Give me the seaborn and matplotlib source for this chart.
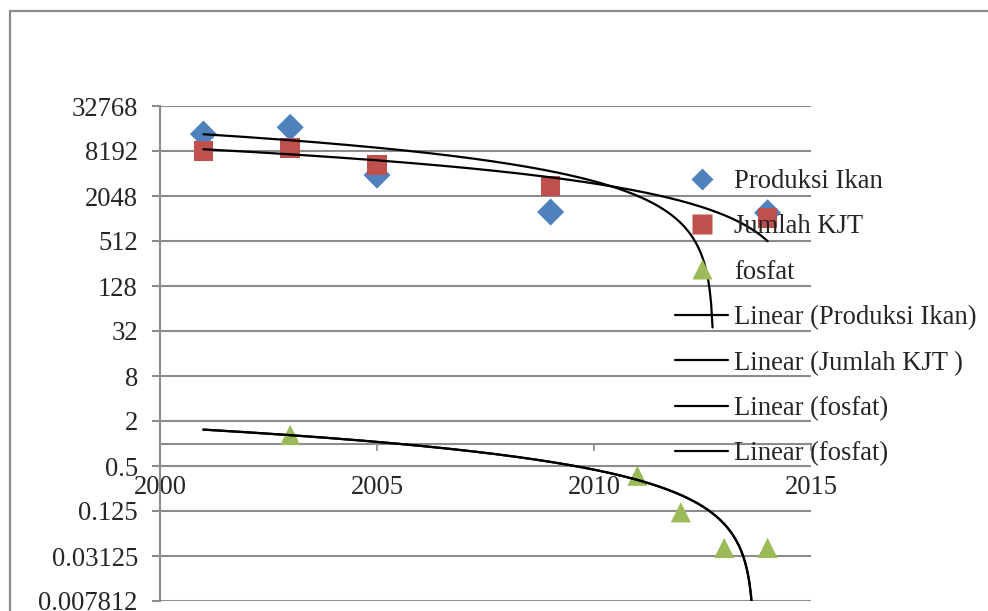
import numpy as np
import pandas as pd
import matplotlib
matplotlib.use("Agg")
import matplotlib.pyplot as plt
import matplotlib.patches as patches
from matplotlib.lines import Line2D
import seaborn as sns

# --- data -------------------------------------------------------------
years_ikan = [2001, 2003, 2005, 2009, 2014]
produksi_ikan = [13800, 17000, 3900, 1250, 1220]
jumlah_kjt = [8200, 9000, 5300, 2800, 1040]

years_fosfat = [2003, 2011, 2012, 2013, 2014]
fosfat = [1.3, 0.37, 0.12, 0.04, 0.04]

y_tick_values = [2.0 ** e for e in range(-7, 16, 2)]
y_tick_labels = ["0.007812", "0.03125", "0.125", "0.5", "2", "8", "32",
                 "128", "512", "2048", "8192", "32768"]
x_ticks = [2000, 2005, 2010, 2015]

# --- style ------------------------------------------------------------
sns.set_style("white")
plt.rcParams["font.family"] = ["Liberation Serif", "DejaVu Serif"]
FS = 19.2
plt.rcParams["font.size"] = FS

GRID = "#8c8c8c"
BLUE = "#4F81BD"
RED = "#C0504D"
GREEN = "#9BBB59"

fig = plt.figure(figsize=(9.88, 6.11), dpi=100)
ax = fig.add_axes([160 / 988, 1 - 601 / 611, (811 - 160) / 988, (601 - 106) / 611])

# outer chart frame
fig.patches.append(patches.Rectangle((10 / 988, -0.05), 1.2, (611 - 11.5) / 611 + 0.05,
                                     transform=fig.transFigure, fill=False,
                                     edgecolor=GRID, lw=1.6, zorder=0))

df_ikan = pd.DataFrame({"tahun": years_ikan, "produksi": produksi_ikan, "kjt": jumlah_kjt})
df_fos = pd.DataFrame({"tahun": years_fosfat, "fosfat": fosfat})

sns.scatterplot(data=df_ikan, x="tahun", y="produksi", marker="D", s=190,
                color=BLUE, edgecolor="none", ax=ax, zorder=3)
sns.scatterplot(data=df_ikan, x="tahun", y="kjt", marker="s", s=200,
                color=RED, edgecolor="none", ax=ax, zorder=3)
sns.scatterplot(data=df_fos, x="tahun", y="fosfat", marker="^", s=210,
                color=GREEN, edgecolor="none", ax=ax, zorder=3)

# linear trend lines, shown on the log axis (only positive values)
grid_x = np.linspace(2001, 2014, 411)


def trend(xs, ys):
    k, b = np.polyfit(xs, ys, 1)
    vals = k * grid_x + b
    keep = vals > 0
    return pd.DataFrame({"tahun": grid_x[keep], "nilai": vals[keep]})


for xs, ys in [(years_ikan, produksi_ikan), (years_ikan, jumlah_kjt),
               (years_fosfat, fosfat), (years_fosfat, fosfat)]:
    t = trend(xs, ys)
    sns.lineplot(data=t, x="tahun", y="nilai", color="black", lw=1.6,
                 sort=False, estimator=None, ax=ax, zorder=4)

# --- axes ---------------------------------------------------------------
ax.set_yscale("log", base=2)
ax.set_ylim(2.0 ** -7, 2.0 ** 15)
ax.set_xlim(2000, 2015)
ax.set_yticks(y_tick_values)
ax.set_yticklabels(y_tick_labels)
ax.yaxis.set_minor_locator(matplotlib.ticker.NullLocator())
ax.set_xticks(x_ticks)
ax.set_xticklabels([str(v) for v in x_ticks])
ax.set_xlabel("")
ax.set_ylabel("")

ax.grid(axis="y", color=GRID, lw=1.5)
ax.grid(axis="x", visible=False)
ax.set_axisbelow(True)

for side in ["top", "right"]:
    ax.spines[side].set_visible(False)
ax.spines["left"].set_color(GRID)
ax.spines["left"].set_linewidth(1.5)
ax.spines["bottom"].set_position(("data", 1))
ax.spines["bottom"].set_color(GRID)
ax.spines["bottom"].set_linewidth(1.5)

ax.tick_params(axis="y", direction="out", length=6, width=1.5, color=GRID,
               pad=10, labelsize=FS, left=True)
ax.tick_params(axis="x", direction="out", length=5, width=1.2, color=GRID,
               pad=18, labelsize=FS, bottom=True)

# --- legend -------------------------------------------------------------
handles = [
    Line2D([], [], ls="none", marker="D", ms=11, color=BLUE, mec="none"),
    Line2D([], [], ls="none", marker="s", ms=14, color=RED, mec="none"),
    Line2D([], [], ls="none", marker="^", ms=14, color=GREEN, mec="none"),
    Line2D([], [], color="black", lw=1.6),
    Line2D([], [], color="black", lw=1.6),
    Line2D([], [], color="black", lw=1.6),
    Line2D([], [], color="black", lw=1.6),
]
labels = ["Produksi Ikan", "Jumlah KJT", "fosfat", "Linear (Produksi Ikan)",
          "Linear (Jumlah KJT )", "Linear (fosfat)", "Linear (fosfat)"]
fig.legend(handles, labels, loc="upper left",
           bbox_to_anchor=(675 / 988, 1 - 169 / 611), frameon=False,
           borderpad=0, borderaxespad=0, handlelength=2.0, handletextpad=0.22,
           labelspacing=0.765, fontsize=FS)

fig.savefig("out.png", dpi=100)
